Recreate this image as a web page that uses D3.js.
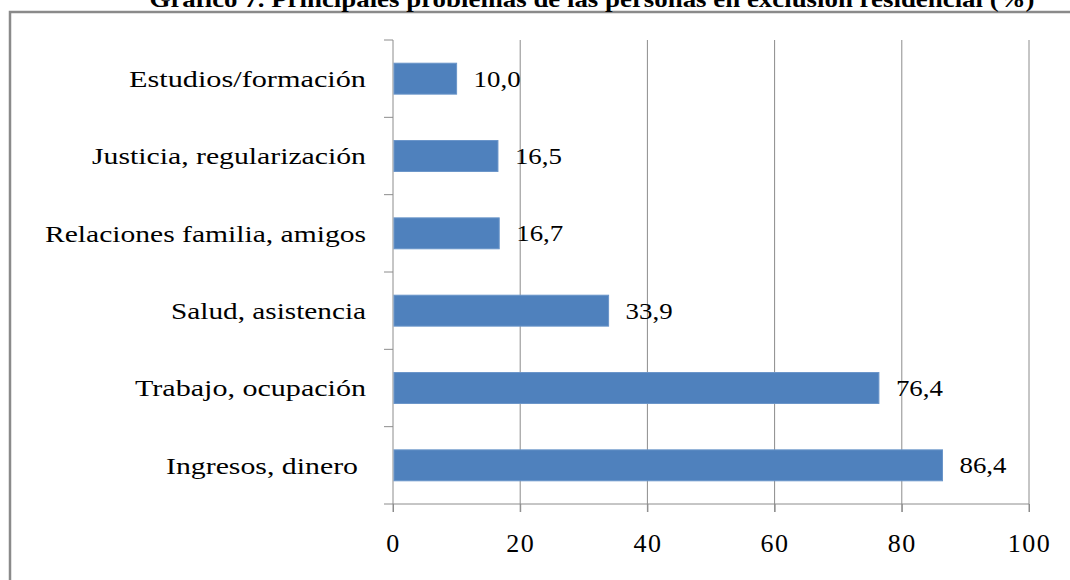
<!DOCTYPE html>
<html>
<head>
<meta charset="utf-8">
<script src="https://cdn.jsdelivr.net/npm/d3@7"></script>
<style>
html, body { margin: 0; padding: 0; background: #fff; }
svg { display: block; }
</style>
</head>
<body>
<svg id="chart" width="1070" height="580"></svg>
<script>
const title = "Gráfico 7. Principales problemas de las personas en exclusión residencial (%)";
const categories = ["Estudios/formación", "Justicia, regularización", "Relaciones familia, amigos", "Salud, asistencia", "Trabajo, ocupación", "Ingresos, dinero"];
const values = [10.0, 16.5, 16.7, 33.9, 76.4, 86.4];
const xTicks = [0, 20, 40, 60, 80, 100];

const svg = d3.select("#chart");
const serif = "'Liberation Serif', 'Times New Roman', serif";

const pLeft = 393, pRight = 1029, pTop = 40, pBottom = 504;

const x = d3.scaleLinear().domain([0, 100]).range([pLeft, pRight]);
const y = d3.scaleBand().domain(categories).range([pTop, pBottom]).paddingInner(0.6).paddingOuter(0.3);
const yb = d3.scaleBand().domain(categories).range([pTop, pBottom]);

// outer frame
svg.append("rect")
  .attr("x", 10).attr("y", 12).attr("width", 1080).attr("height", 600)
  .attr("fill", "none").attr("stroke", "#8a8a8a").attr("stroke-width", 2.5);

// title (clipped at top as in the reference)
svg.append("text")
  .attr("x", 592).attr("y", 7)
  .attr("text-anchor", "middle")
  .attr("font-family", serif).attr("font-weight", "bold").attr("font-size", 23)
  .attr("textLength", 885).attr("lengthAdjust", "spacingAndGlyphs")
  .text(title);

// vertical gridlines
svg.append("g").selectAll("line").data(xTicks.slice(1)).join("line")
  .attr("x1", d => x(d)).attr("x2", d => x(d))
  .attr("y1", pTop).attr("y2", pBottom + 8)
  .attr("stroke", "#8c8c8c").attr("stroke-width", 1);

// x axis
const xAxis = d3.axisBottom(x).tickValues(xTicks).tickSize(8).tickFormat(d3.format("d"));
const gx = svg.append("g").attr("transform", `translate(0,${pBottom})`).call(xAxis);
gx.select(".domain").remove();
gx.selectAll(".tick line").attr("stroke", "#8c8c8c");
gx.selectAll(".tick text")
  .attr("font-family", serif).attr("font-size", 26).attr("fill", "#000")
  .attr("y", 30).attr("dy", "0.71em").attr("letter-spacing", 1.5);
svg.append("line").attr("x1", pLeft - 9).attr("x2", pRight).attr("y1", pBottom).attr("y2", pBottom)
  .attr("stroke", "#8c8c8c");

// y axis line + boundary ticks
svg.append("line").attr("x1", pLeft).attr("x2", pLeft).attr("y1", pTop).attr("y2", pBottom + 8)
  .attr("stroke", "#8c8c8c");
const bounds = categories.map(c => yb(c));
svg.append("g").selectAll("line").data(bounds).join("line")
  .attr("x1", pLeft - 9).attr("x2", pLeft)
  .attr("y1", d => d).attr("y2", d => d)
  .attr("stroke", "#8c8c8c");

// category labels
const labelW = {"Estudios/formación":237, "Justicia, regularización":274, "Relaciones familia, amigos":321, "Salud, asistencia":195, "Trabajo, ocupación":231, "Ingresos, dinero":192};
const labelEnd = {"Ingresos, dinero":358};
svg.append("g").selectAll("text").data(categories).join("text")
  .attr("x", d => labelEnd[d] || 366)
  .attr("y", d => yb(d) + yb.bandwidth() / 2)
  .attr("dy", "0.35em")
  .attr("text-anchor", "end")
  .attr("font-family", serif).attr("font-size", 24).attr("fill", "#000")
  .attr("textLength", d => labelW[d]).attr("lengthAdjust", "spacingAndGlyphs")
  .text(d => d);

// bars
svg.append("g").selectAll("rect").data(categories).join("rect")
  .attr("x", x(0) + 1)
  .attr("y", d => y(d))
  .attr("width", (d, i) => x(values[i]) - x(0) - 1)
  .attr("height", y.bandwidth())
  .attr("fill", "#4f81bd")
  .attr("stroke", "#6a95c9").attr("stroke-width", 1);

// value labels
const fmt = v => v.toFixed(1).replace(".", ",");
svg.append("g").selectAll("text").data(categories).join("text")
  .attr("x", (d, i) => x(values[i]) + 17)
  .attr("y", d => y(d) + y.bandwidth() / 2)
  .attr("dy", "0.35em")
  .attr("font-family", serif).attr("font-size", 23).attr("fill", "#000")
  .attr("textLength", 47).attr("lengthAdjust", "spacingAndGlyphs")
  .text((d, i) => fmt(values[i]));
</script>
</body>
</html>
